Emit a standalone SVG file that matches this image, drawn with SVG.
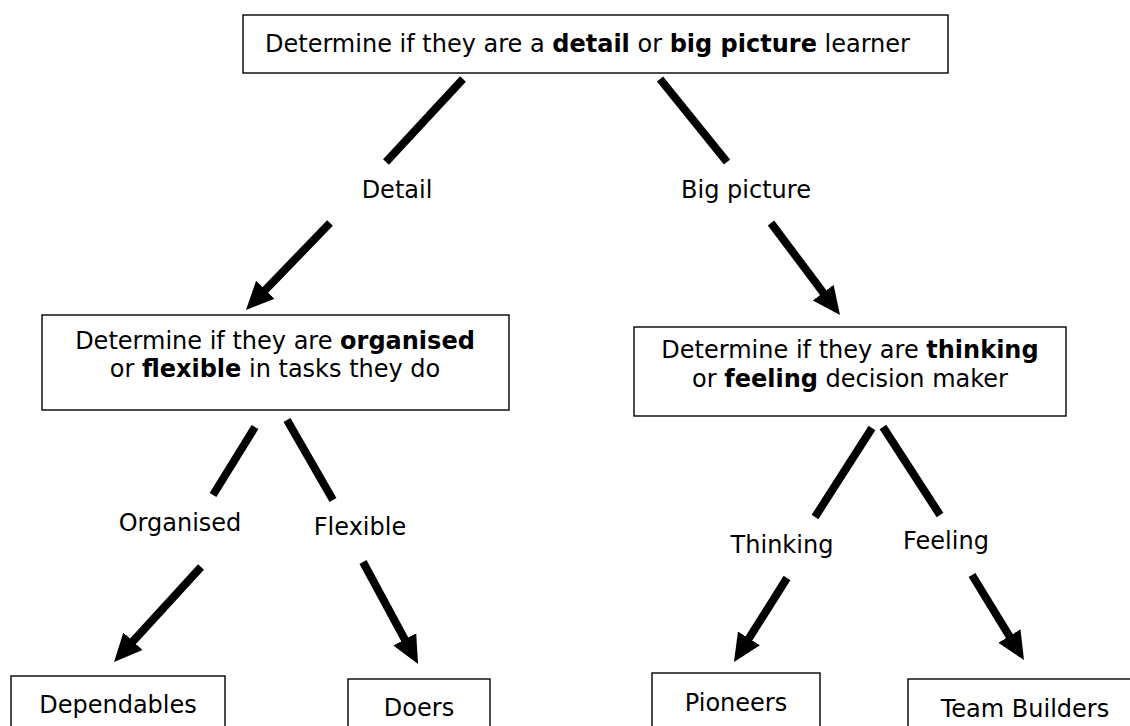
<svg xmlns="http://www.w3.org/2000/svg" width="1130" height="726" viewBox="0 0 1130 726">
<defs>
<style>
.box{fill:#fff;stroke:#000;stroke-width:1.4}
.t{font-family:"DejaVu Sans",Verdana,sans-serif;font-size:24px;fill:#000}
.c{text-anchor:middle}
.b{font-weight:bold}
.ln{stroke:#000;stroke-width:8;fill:none}
.ar{marker-end:url(#ah)}
</style>
<marker id="ah" markerUnits="userSpaceOnUse" viewBox="0 -14 30 28" markerWidth="30" markerHeight="28" refX="10" refY="0" orient="auto">
<path d="M0,-13 L28,0 L0,13 Z" fill="#000"/>
</marker>
</defs>
<rect width="1130" height="726" fill="#fff"/>
<g id="connectors">
<line class="ln" x1="463" y1="79" x2="386" y2="162"/>
<line class="ln" x1="660" y1="79" x2="727" y2="162"/>
<line class="ln ar" x1="330" y1="223" x2="258.5" y2="297"/>
<line class="ln ar" x1="771" y1="223" x2="829.2" y2="300.6"/>
<line class="ln" x1="255" y1="427" x2="213" y2="495"/>
<line class="ln" x1="287" y1="420" x2="333" y2="500"/>
<line class="ln ar" x1="201" y1="567" x2="126.2" y2="648.7"/>
<line class="ln ar" x1="363" y1="562" x2="409.5" y2="648.2"/>
<line class="ln" x1="872" y1="428" x2="815" y2="517"/>
<line class="ln" x1="883" y1="427" x2="940" y2="515"/>
<line class="ln ar" x1="787" y1="578" x2="743.6" y2="646.8"/>
<line class="ln ar" x1="972" y1="575" x2="1014.6" y2="644.6"/>
</g>
<g id="labels">
<text class="t c" x="397" y="198">Detail</text>
<text class="t c" x="746" y="198">Big picture</text>
<text class="t c" x="180" y="531">Organised</text>
<text class="t c" x="360" y="535">Flexible</text>
<text class="t c" x="782" y="553">Thinking</text>
<text class="t c" x="946" y="549">Feeling</text>
</g>
<g id="n-top">
<rect class="box" x="243" y="15" width="705" height="58"/>
<text class="t" x="265" y="52">Determine if they are a <tspan class="b">detail</tspan> or <tspan class="b">big picture</tspan> learner</text>
</g>
<g id="n-organised">
<rect class="box" x="42" y="315" width="467" height="95"/>
<text class="t c" x="275" y="349">Determine if they are <tspan class="b">organised</tspan></text>
<text class="t c" x="275" y="377">or <tspan class="b">flexible</tspan> in tasks they do</text>
</g>
<g id="n-thinking">
<rect class="box" x="634" y="327" width="432" height="89"/>
<text class="t c" x="850" y="358">Determine if they are <tspan class="b">thinking</tspan></text>
<text class="t c" x="850" y="387">or <tspan class="b">feeling</tspan> decision maker</text>
</g>
<g id="n-dependables">
<rect class="box" x="11" y="676" width="214" height="60"/>
<text class="t c" x="118" y="713">Dependables</text>
</g>
<g id="n-doers">
<rect class="box" x="348" y="679" width="142" height="60"/>
<text class="t c" x="419" y="716">Doers</text>
</g>
<g id="n-pioneers">
<rect class="box" x="652" y="673" width="168" height="60"/>
<text class="t c" x="736" y="711">Pioneers</text>
</g>
<g id="n-teambuilders">
<rect class="box" x="908" y="679" width="240" height="60"/>
<text class="t c" x="1025" y="717">Team Builders</text>
</g>
</svg>
